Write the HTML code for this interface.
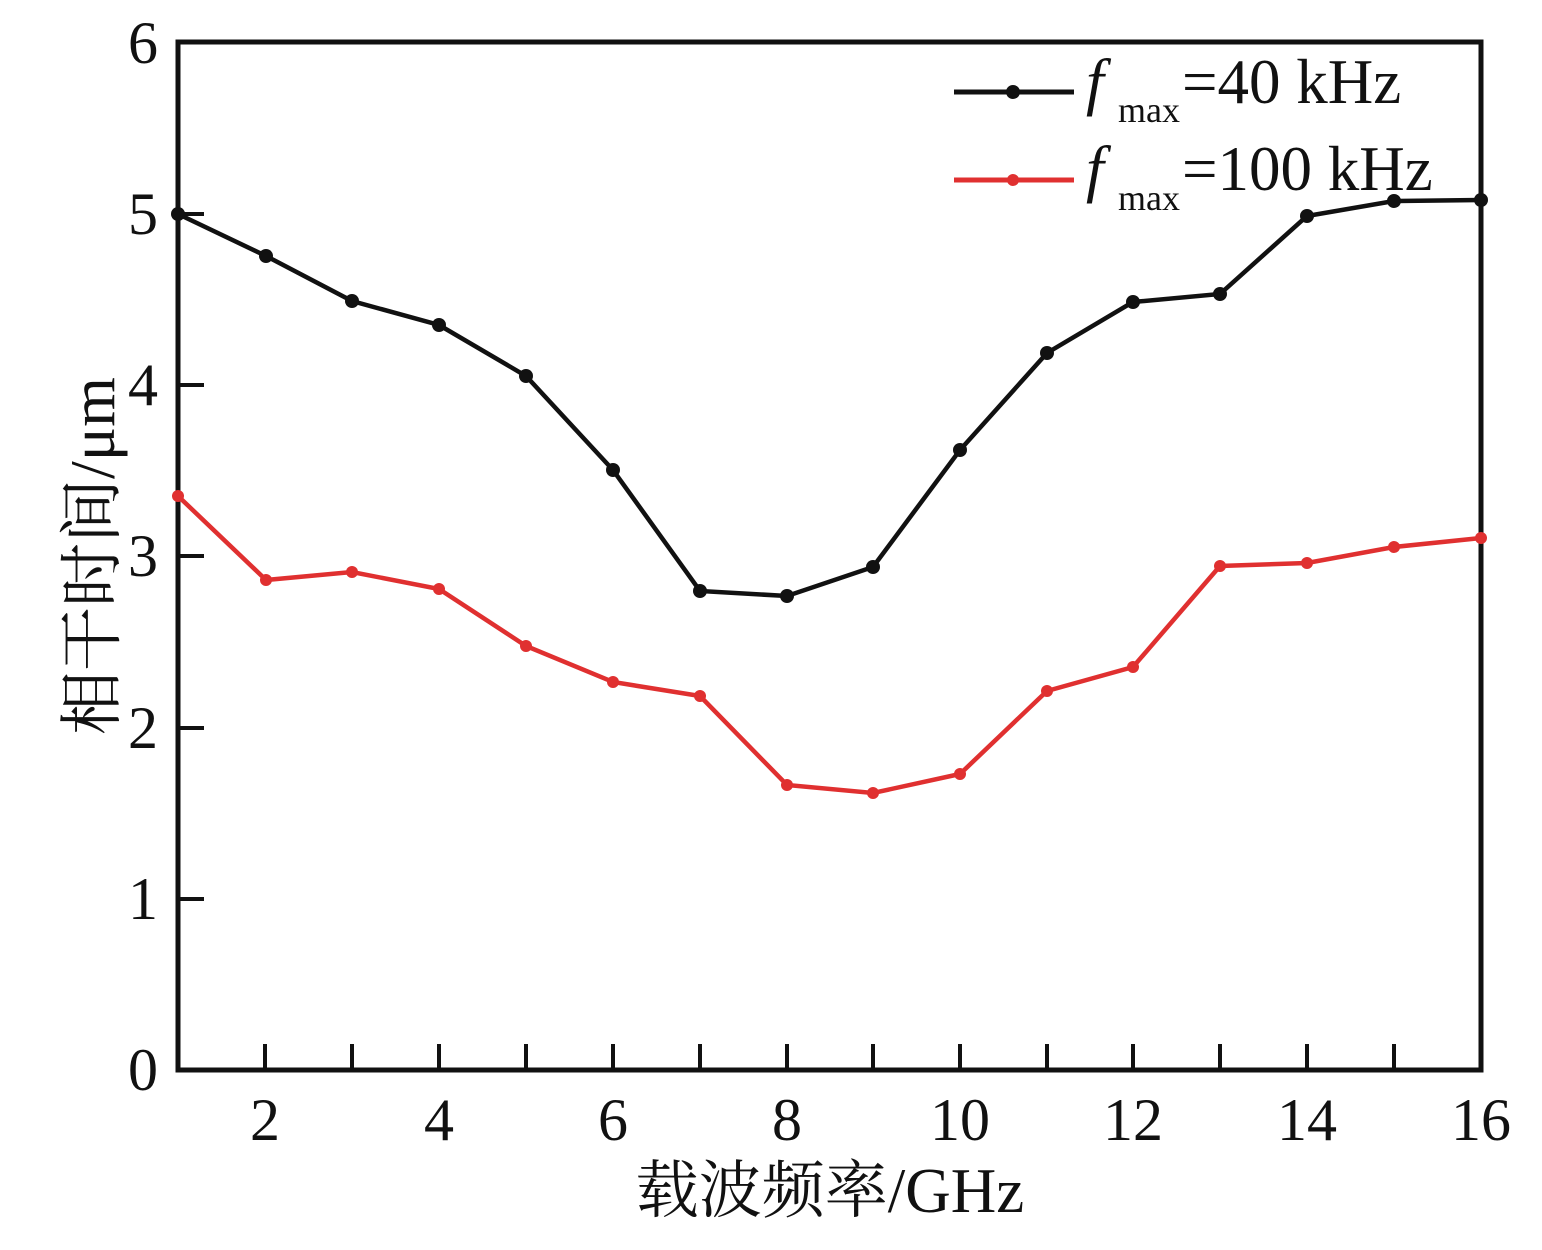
<!DOCTYPE html>
<html><head><meta charset="utf-8"><style>body{margin:0;background:#fff}</style></head><body>
<svg width="1542" height="1245" xmlns="http://www.w3.org/2000/svg" font-family="'Liberation Serif','Noto Serif CJK SC',serif">
<rect width="1542" height="1245" fill="#fff"/>
<g stroke="#111" stroke-width="4">
<path d="M265,1070V1044M352,1070V1044M439,1070V1044M526,1070V1044M613,1070V1044M700,1070V1044M787,1070V1044M873,1070V1044M960,1070V1044M1047,1070V1044M1133,1070V1044M1220,1070V1044M1307,1070V1044M1394,1070V1044"/>
<path d="M178,899H204M178,728H204M178,556H204M178,385H204M178,214H204"/>
</g>
<rect x="178" y="42" width="1303" height="1028" fill="none" stroke="#111" stroke-width="5"/>
<g font-size="60" fill="#111" text-anchor="end">
<text x="158" y="1090">0</text><text x="158" y="919">1</text><text x="158" y="748">2</text><text x="158" y="576">3</text><text x="158" y="405">4</text><text x="158" y="234">5</text><text x="158" y="63">6</text>
</g>
<g font-size="60" fill="#111" text-anchor="middle">
<text x="265" y="1140">2</text><text x="439" y="1140">4</text><text x="613" y="1140">6</text><text x="787" y="1140">8</text><text x="960" y="1140">10</text><text x="1133" y="1140">12</text><text x="1307" y="1140">14</text><text x="1481" y="1140">16</text>
<text x="830" y="1212" font-size="63">载波频率/GHz</text>
<text transform="translate(114,556) rotate(-90)" font-size="64">相干时间/μm</text>
</g>
<polyline fill="none" stroke="#111" stroke-width="4.5" points="178,214 266,256 352,301 439,325 526,376 613,470 700,591 787,596 873,567 960,450 1047,353 1133,302 1220,294 1307,216 1394,201 1481,200"/>
<g fill="#111">
<circle cx="178" cy="214" r="7"/><circle cx="266" cy="256" r="7"/><circle cx="352" cy="301" r="7"/><circle cx="439" cy="325" r="7"/><circle cx="526" cy="376" r="7"/><circle cx="613" cy="470" r="7"/><circle cx="700" cy="591" r="7"/><circle cx="787" cy="596" r="7"/><circle cx="873" cy="567" r="7"/><circle cx="960" cy="450" r="7"/><circle cx="1047" cy="353" r="7"/><circle cx="1133" cy="302" r="7"/><circle cx="1220" cy="294" r="7"/><circle cx="1307" cy="216" r="7"/><circle cx="1394" cy="201" r="7"/><circle cx="1481" cy="200" r="7"/>
</g>
<polyline fill="none" stroke="#e03030" stroke-width="4.5" points="178,496 266,580 352,572 439,589 526,646 613,682 700,696 787,785 873,793 960,774 1047,691 1133,667 1220,566 1307,563 1394,547 1481,538"/>
<g fill="#e03030">
<circle cx="178" cy="496" r="6"/><circle cx="266" cy="580" r="6"/><circle cx="352" cy="572" r="6"/><circle cx="439" cy="589" r="6"/><circle cx="526" cy="646" r="6"/><circle cx="613" cy="682" r="6"/><circle cx="700" cy="696" r="6"/><circle cx="787" cy="785" r="6"/><circle cx="873" cy="793" r="6"/><circle cx="960" cy="774" r="6"/><circle cx="1047" cy="691" r="6"/><circle cx="1133" cy="667" r="6"/><circle cx="1220" cy="566" r="6"/><circle cx="1307" cy="563" r="6"/><circle cx="1394" cy="547" r="6"/><circle cx="1481" cy="538" r="6"/>
</g>
<line x1="954" y1="92" x2="1074" y2="92" stroke="#111" stroke-width="5"/><circle cx="1013" cy="92" r="7" fill="#111"/>
<line x1="954" y1="180" x2="1074" y2="180" stroke="#e03030" stroke-width="5"/><circle cx="1013" cy="180" r="6" fill="#e03030"/>
<g fill="#111">
<text x="1086" y="103" font-size="64" font-style="italic">f</text><text x="1118" y="122" font-size="36">max</text><text x="1182" y="103" font-size="63">=40 kHz</text>
<text x="1086" y="190" font-size="64" font-style="italic">f</text><text x="1118" y="210" font-size="36">max</text><text x="1182" y="190" font-size="63">=100 kHz</text>
</g>
</svg>
</body></html>
